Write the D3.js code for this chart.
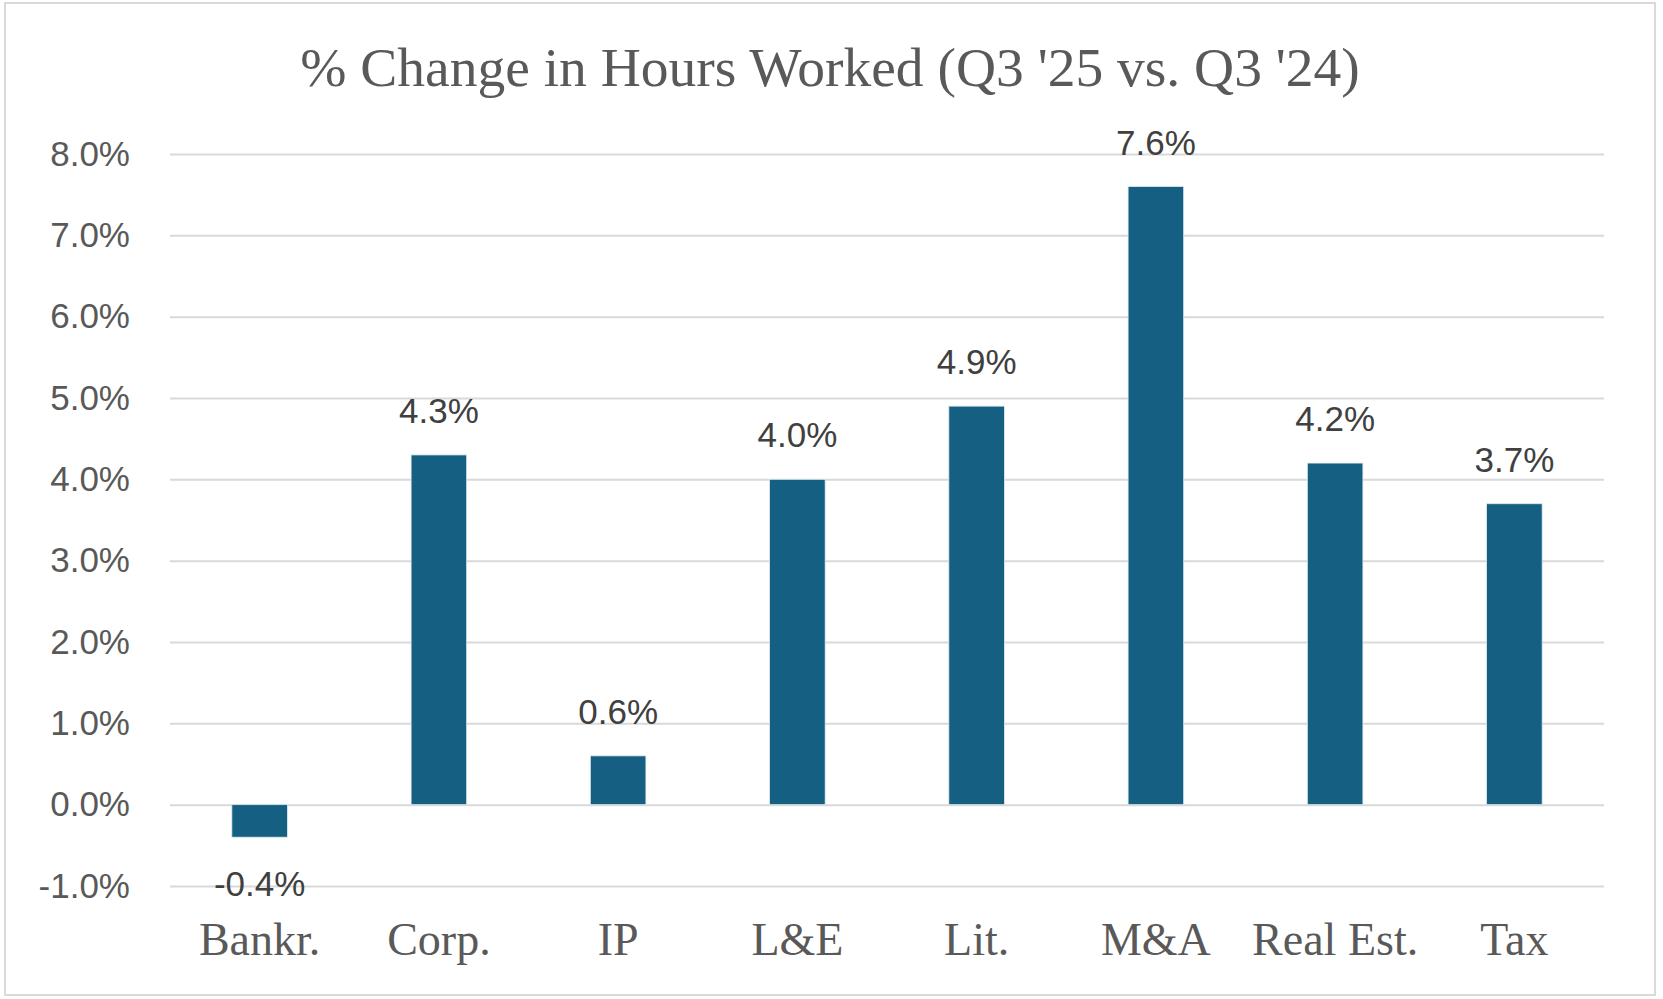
<!DOCTYPE html>
<html>
<head>
<meta charset="utf-8">
<script src="https://cdn.jsdelivr.net/npm/d3@7"></script>
<style>
  body { margin: 0; background: #fff; }
</style>
</head>
<body>
<svg id="chart"></svg>
<script>
const categories = ['Bankr.', 'Corp.', 'IP', 'L&E', 'Lit.', 'M&A', 'Real Est.', 'Tax'];
const values = [-0.4, 4.3, 0.6, 4.0, 4.9, 7.6, 4.2, 3.7];
const yTicks = [-1, 0, 1, 2, 3, 4, 5, 6, 7, 8];
const title = "% Change in Hours Worked (Q3 '25 vs. Q3 '24)";

const width = 1663, height = 999;
const barColor = '#156082';
const gridColor = '#d9d9d9';
const serif = '"Liberation Serif", "Times New Roman", serif';
const sans = '"Liberation Sans", Arial, sans-serif';

// Excel style: plain hyphen for negatives
const pct = d => d3.format('.1f')(d).replace('\u2212', '-') + '%';

const svg = d3.select('#chart').attr('width', width).attr('height', height);

// chart frame
svg.append('rect')
    .attr('x', 5).attr('y', 3)
    .attr('width', 1650).attr('height', 992)
    .attr('fill', '#fff')
    .attr('stroke', gridColor)
    .attr('stroke-width', 2);

const plot = { left: 170, right: 1604, top: 154, bottom: 886 };

const x = d3.scaleBand().domain(categories)
    .range([plot.left, plot.right])
    .paddingInner(0.69).paddingOuter(0.345);
const y = d3.scaleLinear().domain([-1, 8]).range([plot.bottom, plot.top]);

// gridlines + y labels
const yAxis = d3.axisLeft(y).tickValues(yTicks)
    .tickSize(-(plot.right - plot.left))
    .tickPadding(40)
    .tickFormat(pct);

svg.append('g')
    .attr('transform', 'translate(' + plot.left + ',0)')
    .call(yAxis)
    .call(g => {
        g.select('.domain').remove();
        g.selectAll('.tick line').attr('stroke', gridColor).attr('stroke-width', 2);
        g.selectAll('.tick text')
            .attr('fill', '#595959')
            .style('font-family', sans)
            .style('font-size', '35px');
    });

// bars
svg.append('g').selectAll('rect').data(values).enter().append('rect')
    .attr('x', (d, i) => x(categories[i]))
    .attr('y', d => y(Math.max(0, d)))
    .attr('width', x.bandwidth())
    .attr('height', d => Math.abs(y(d) - y(0)))
    .attr('fill', barColor)
    .attr('stroke', '#dfe9ef')
    .attr('stroke-width', 0.8);

// value labels
svg.append('g').selectAll('text').data(values).enter().append('text')
    .attr('x', (d, i) => x(categories[i]) + x.bandwidth() / 2)
    .attr('y', d => d >= 0 ? y(d) - 32 : y(d) + 59)
    .attr('text-anchor', 'middle')
    .attr('fill', '#404040')
    .style('font-family', sans)
    .style('font-size', '35px')
    .text(pct);

// category labels
const xAxis = d3.axisBottom(x).tickSize(0).tickPadding(0);
svg.append('g')
    .attr('transform', 'translate(0,' + plot.bottom + ')')
    .call(xAxis)
    .call(g => {
        g.select('.domain').remove();
        g.selectAll('.tick text')
            .attr('dy', null)
            .attr('y', 69)
            .attr('fill', '#595959')
            .style('font-family', serif)
            .style('font-size', '46px');
    });

// title
svg.append('text')
    .attr('x', 830).attr('y', 86)
    .attr('text-anchor', 'middle')
    .attr('fill', '#595959')
    .style('font-family', serif)
    .style('font-size', '55.5px')
    .text(title);
</script>
</body>
</html>
